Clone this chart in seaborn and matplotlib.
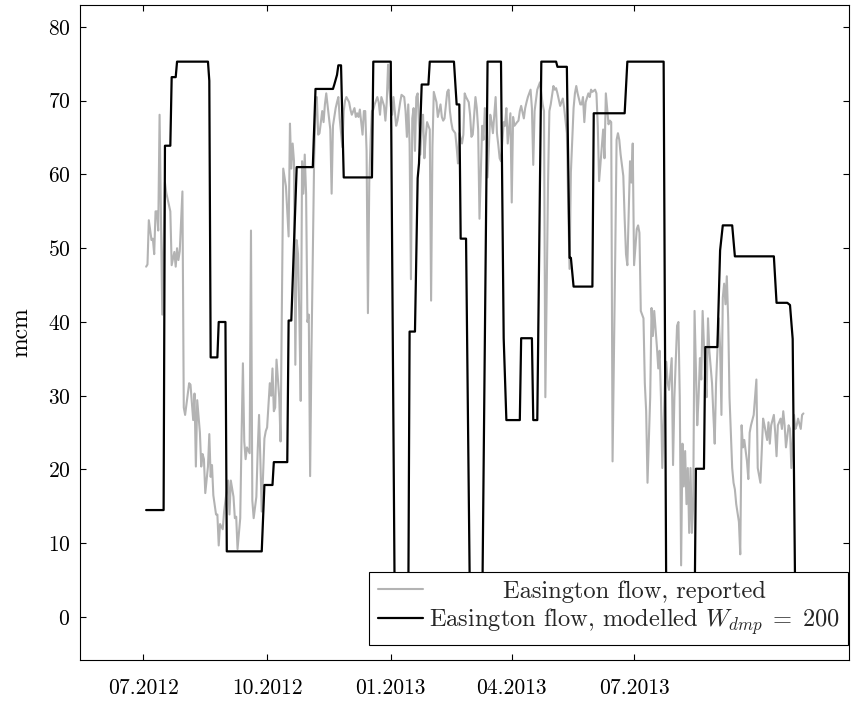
import matplotlib
matplotlib.use("Agg")
import matplotlib.pyplot as plt
import matplotlib.dates as mdates
import numpy as np
import pandas as pd
import seaborn as sns

# Day offsets are counted from this date
start_date = "2012-07-01"

# Reported daily flow at Easington (mcm)
reported_day = [
    2, 3, 4, 6, 7, 8, 9, 10, 11, 12, 14, 16, 17, 20, 21, 23, 24, 25, 26, 27,
    29, 30, 31, 33, 34, 35, 37, 38, 39, 40, 42, 43, 44, 45, 46, 48, 49, 50, 51, 52,
    54, 55, 56, 57, 59, 60, 61, 63, 64, 65, 67, 68, 69, 70, 72, 73, 74, 75, 76, 77,
    79, 80, 81, 82, 84, 85, 86, 87, 88, 90, 91, 92, 94, 95, 96, 97, 98, 99, 101, 102,
    104, 106, 108, 109, 110, 111, 112, 113, 114, 115, 116, 117, 118, 119, 120, 121, 122, 123, 124, 125,
    126, 127, 128, 129, 130, 131, 133, 134, 135, 136, 138, 139, 140, 141, 143, 144, 145, 146, 148, 149,
    150, 151, 153, 154, 155, 157, 158, 159, 160, 161, 163, 164, 165, 166, 167, 168, 169, 170, 171, 172,
    174, 175, 176, 177, 179, 180, 181, 182, 183, 184, 185, 186, 188, 189, 191, 192, 194, 195, 196, 197,
    198, 199, 200, 201, 202, 203, 204, 206, 207, 208, 209, 210, 211, 213, 214, 215, 216, 217, 218, 219,
    221, 222, 223, 224, 226, 227, 228, 229, 230, 232, 233, 234, 235, 237, 238, 239, 240, 242, 243, 244,
    245, 247, 248, 249, 250, 252, 253, 254, 255, 256, 258, 259, 260, 262, 263, 264, 265, 266, 268, 269,
    270, 271, 273, 274, 275, 276, 278, 279, 280, 281, 283, 284, 285, 286, 288, 289, 290, 291, 293, 294,
    295, 296, 297, 298, 299, 300, 301, 302, 303, 305, 306, 307, 308, 310, 311, 312, 313, 315, 316, 317,
    318, 320, 321, 322, 323, 325, 326, 327, 328, 329, 331, 332, 333, 334, 336, 337, 338, 339, 341, 342,
    343, 344, 346, 347, 348, 349, 351, 352, 353, 354, 355, 357, 358, 359, 360, 362, 363, 364, 365, 367,
    368, 369, 370, 372, 373, 374, 375, 377, 378, 379, 380, 382, 383, 384, 385, 386, 388, 389, 390, 391,
    393, 394, 395, 397, 398, 399, 400, 401, 402, 403, 404, 405, 406, 407, 408, 409, 410, 412, 413, 414,
    415, 416, 418, 419, 420, 421, 423, 424, 425, 426, 428, 429, 430, 431, 432, 433, 434, 435, 436, 438,
    439, 440, 441, 443, 444, 445, 446, 447, 449, 450, 451, 452, 454, 455, 456, 457, 459, 460, 461, 462,
    464, 465, 466, 467, 469, 470, 471, 472, 474, 475, 476, 477, 478, 480, 481, 482, 484, 485, 486, 487,
    489, 490, 491,
]
reported_mcm = [
    47.5, 47.8, 53.8, 51.1, 51.3, 49.2, 55.0, 55.0, 52.4, 68.1, 41.0, 58.9, 57.5, 55.0, 47.7, 49.5, 47.5, 50.0, 48.4, 49.6,
    57.7, 28.4, 27.4, 30.3, 31.7, 31.5, 26.7, 30.3, 20.4, 29.4, 25.0, 20.4, 22.1, 21.4, 16.8, 20.4, 24.8, 19.0, 20.6, 16.5,
    13.9, 13.9, 9.7, 12.6, 11.9, 14.3, 15.8, 18.5, 13.9, 18.5, 16.3, 13.4, 13.6, 9.2, 13.4, 24.5, 34.4, 23.8, 21.4, 23.0,
    22.2, 52.4, 15.8, 13.4, 16.3, 22.6, 27.4, 21.2, 14.3, 24.2, 25.2, 25.7, 31.7, 30.0, 33.7, 27.9, 28.4, 34.9, 29.8, 23.8,
    60.8, 58.4, 51.6, 66.9, 60.8, 64.2, 61.8, 34.2, 51.1, 49.2, 40.5, 29.3, 61.8, 57.4, 62.7, 57.4, 40.0, 41.0, 19.1, 36.0,
    49.2, 62.2, 68.6, 70.5, 65.4, 65.6, 68.6, 67.1, 69.5, 71.0, 67.8, 66.1, 57.4, 66.6, 69.0, 69.8, 70.5, 67.6, 63.7, 68.6,
    70.0, 70.5, 69.8, 68.8, 68.1, 69.0, 67.8, 68.3, 67.8, 68.8, 65.4, 68.6, 68.6, 63.2, 41.2, 58.9, 64.7, 68.6, 68.8, 69.5,
    70.5, 69.8, 68.1, 70.5, 69.3, 67.3, 69.8, 74.9, 71.5, 69.3, 68.1, 70.5, 66.6, 67.3, 69.8, 70.8, 70.5, 68.6, 65.1, 69.5,
    64.2, 45.8, 67.6, 69.0, 63.2, 70.5, 71.0, 62.7, 66.6, 68.1, 62.2, 65.1, 67.1, 66.1, 42.9, 63.7, 71.2, 70.5, 69.8, 67.8,
    69.5, 67.8, 67.3, 67.6, 71.2, 71.5, 68.6, 67.1, 66.1, 65.6, 63.7, 61.5, 65.6, 64.2, 65.4, 71.0, 70.5, 69.8, 68.1, 65.1,
    65.4, 70.5, 69.0, 66.1, 54.0, 66.6, 64.7, 69.0, 67.8, 59.6, 68.1, 67.1, 65.6, 70.5, 65.6, 64.0, 62.2, 61.8, 67.1, 66.6,
    69.0, 64.2, 68.3, 56.2, 67.8, 66.6, 67.1, 67.3, 68.6, 69.3, 67.6, 69.0, 69.8, 70.5, 71.5, 69.0, 61.3, 68.6, 71.5, 72.0,
    72.5, 71.0, 69.5, 68.6, 29.8, 44.3, 58.9, 68.6, 69.5, 72.0, 71.5, 71.7, 71.0, 69.3, 69.8, 70.3, 69.0, 65.6, 55.9, 47.2,
    60.3, 69.0, 71.0, 72.0, 71.0, 69.5, 69.5, 70.5, 67.1, 69.8, 71.0, 70.5, 71.5, 71.2, 71.5, 71.0, 66.6, 59.1, 63.7, 66.1,
    62.2, 71.0, 66.8, 67.3, 67.1, 21.1, 49.2, 64.7, 65.6, 64.7, 62.7, 59.8, 54.0, 49.2, 47.7, 61.8, 58.9, 64.2, 47.7, 52.6,
    53.1, 52.1, 41.5, 40.5, 31.7, 27.9, 18.2, 29.8, 41.9, 38.1, 41.5, 36.6, 33.7, 36.1, 29.8, 20.2, 32.2, 34.6, 31.7, 30.8,
    35.1, 20.6, 29.8, 39.5, 40.0, 29.8, 7.0, 23.5, 17.7, 22.5, 15.3, 20.2, 11.4, 20.2, 11.4, 15.3, 41.5, 26.0, 29.8, 35.1,
    32.2, 41.5, 32.2, 29.8, 40.5, 36.1, 31.7, 27.4, 23.5, 31.7, 40.5, 36.6, 27.4, 43.3, 45.2, 42.4, 46.2, 40.5, 29.8, 20.2,
    18.2, 17.3, 15.3, 12.9, 8.5, 26.0, 23.0, 24.0, 21.1, 18.7, 25.0, 26.0, 27.4, 29.8, 32.2, 20.2, 18.2, 22.5, 26.9, 26.0,
    24.0, 26.4, 23.5, 26.0, 27.4, 25.0, 21.8, 26.0, 26.9, 25.5, 27.9, 26.0, 23.0, 26.0, 25.5, 20.2, 27.4, 25.5, 26.0, 26.9,
    25.5, 27.4, 27.6,
]

# Modelled flow with W_dmp = 200 (mcm), given at the days where it changes
modelled_day = [
    2, 15, 16, 20, 21, 24, 25, 48, 49, 50, 55, 56, 61, 62, 88, 90, 96, 97, 107, 108,
    110, 114, 126, 128, 141, 142, 144, 145, 147, 149, 170, 171, 184, 187, 197, 198, 202, 204, 205, 207,
    212, 213, 231, 233, 235, 236, 240, 243, 252, 256, 266, 268, 270, 280, 281, 289, 290, 293, 296, 307,
    308, 315, 317, 318, 320, 334, 335, 358, 360, 387, 389, 410, 411, 417, 418, 427, 429, 431, 438, 440,
    469, 471, 479, 481, 483, 485,
]
modelled_mcm = [
    14.5, 14.5, 63.9, 63.9, 73.2, 73.2, 75.3, 75.3, 72.7, 35.2, 35.2, 40.0, 40.0, 8.9, 8.9, 17.9, 17.9, 21.0, 21.0, 40.2,
    40.2, 61.0, 61.0, 71.6, 71.6, 72.2, 73.5, 74.8, 74.8, 59.6, 59.6, 75.3, 75.3, 0.0, 0.0, 38.7, 38.7, 59.5, 61.5, 72.2,
    72.2, 75.3, 75.3, 69.5, 69.5, 51.3, 51.3, 0.0, 0.0, 75.3, 75.3, 37.8, 26.7, 26.7, 37.8, 37.8, 26.7, 26.7, 75.3, 75.3,
    74.6, 74.6, 48.7, 48.7, 44.8, 44.8, 68.3, 68.3, 75.3, 75.3, 0.0, 0.0, 20.1, 20.1, 36.6, 36.6, 49.7, 53.1, 53.1, 48.9,
    48.9, 42.6, 42.6, 42.3, 37.7, 0.0,
]

tick_dates = ["2012-07-01", "2012-10-01", "2013-01-01", "2013-04-01", "2013-07-01"]
y_ticks = [0, 10, 20, 30, 40, 50, 60, 70, 80]
label_reported = "Easington flow, reported"
label_modelled = r"Easington flow, modelled $W_{dmp}\;=\;200$"

sns.set_theme(style="ticks")
plt.rcParams["font.family"] = ["cmr10", "DejaVu Serif"]
plt.rcParams["mathtext.fontset"] = "cm"
plt.rcParams["axes.formatter.use_mathtext"] = True

base = pd.Timestamp(start_date)
reported = pd.DataFrame({
    "date": base + pd.to_timedelta(reported_day, unit="D"),
    "mcm": reported_mcm,
})
modelled = pd.DataFrame({
    "date": base + pd.to_timedelta(modelled_day, unit="D"),
    "mcm": modelled_mcm,
})

W, H = 858, 707
fig = plt.figure(figsize=(W / 100, H / 100), dpi=100)
ax = fig.add_axes([80 / W, 1 - 660 / H, 769 / W, 655 / H])

sns.lineplot(data=reported, x="date", y="mcm", ax=ax, color="#b3b3b3",
             linewidth=1.5, estimator=None, sort=False, label=label_reported)
sns.lineplot(data=modelled, x="date", y="mcm", ax=ax, color="black",
             linewidth=1.6, estimator=None, sort=False, label=label_modelled)

ax.set_xlim(base - pd.Timedelta(days=47.2), base + pd.Timedelta(days=524.9))
ax.set_ylim(-5.83, 82.98)
ax.set_xticks(pd.to_datetime(tick_dates))
ax.xaxis.set_major_formatter(mdates.DateFormatter("%m.%Y"))
ax.set_yticks(y_ticks)
ax.minorticks_off()

ax.tick_params(direction="in", length=4, width=0.8, color="black",
               top=True, right=True, labelsize=15.5, labelcolor="black")
ax.tick_params(axis="x", pad=13)
ax.tick_params(axis="y", pad=7)
for side in ["left", "right", "top", "bottom"]:
    ax.spines[side].set_color("black")
    ax.spines[side].set_linewidth(0.8)

ax.set_xlabel("")
ax.set_ylabel("mcm", fontsize=17, color="black", labelpad=11)

leg = ax.legend(loc="lower right", bbox_to_anchor=(0.9987, 0.0229),
                borderaxespad=0, frameon=True, fancybox=False,
                edgecolor="black", framealpha=1, fontsize=17.6,
                handlelength=1.85, handletextpad=0.25, borderpad=0.34,
                labelspacing=0.14)
leg.get_frame().set_linewidth(0.8)

# centre the shorter legend entry within the text column
fig.canvas.draw()
renderer = fig.canvas.get_renderer()
t_short, t_long = leg.get_texts()
shift = (t_long.get_window_extent(renderer).width
         - t_short.get_window_extent(renderer).width) / 2
t_short.set_x(shift)

fig.savefig("out.png", dpi=100)
